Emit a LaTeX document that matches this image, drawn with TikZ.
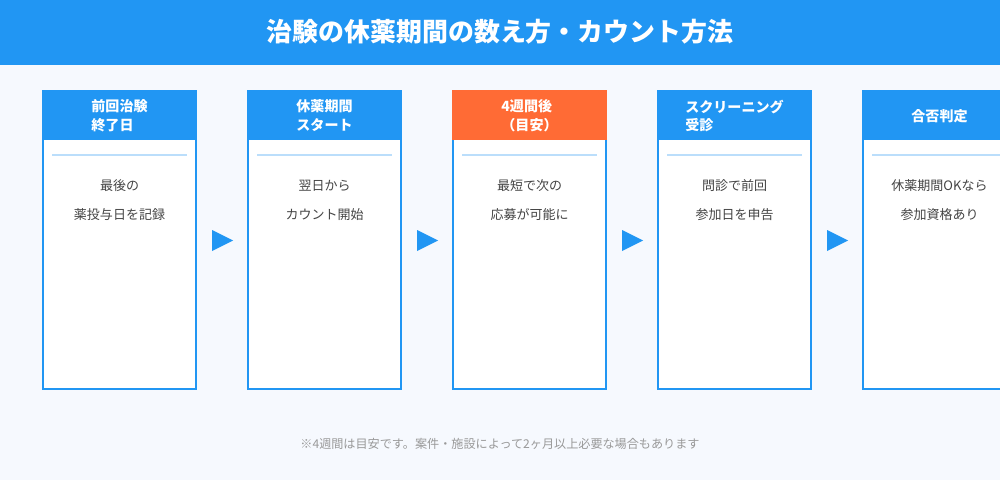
\documentclass[tikz,border=0pt]{standalone}
\usepackage{fontspec}
\setmainfont{Noto Sans CJK JP}
\usetikzlibrary{shapes.geometric}

\definecolor{flowblue}{HTML}{2196F3}
\definecolor{floworange}{HTML}{FF6B35}
\definecolor{flowline}{HTML}{BBDEFB}
\definecolor{pagebg}{HTML}{F6F9FE}
\definecolor{bodytext}{HTML}{444444}
\definecolor{notetext}{HTML}{999999}

\tikzset{
  titletext/.style={text=white, font=\bfseries\fontsize{14.75}{16}\selectfont},
  stepframe/.style={draw=flowblue, line width=1.2pt, fill=white},
  stephead/.style={text=white, align=left, inner sep=0pt,
    font=\bfseries\fontsize{8}{10.8}\selectfont},
  stepbody/.style={text=bodytext, font=\fontsize{7.4}{9}\selectfont},
  steparrow/.style={isosceles triangle, isosceles triangle stretches,
    fill=flowblue, inner sep=0pt, minimum width=0.42cm, minimum height=0.42cm},
  notetxt/.style={text=notetext, font=\fontsize{6.9}{8}\selectfont}
}

\begin{document}
\begin{tikzpicture}[x=0.02cm,y=-0.02cm]
  \clip (0,0) rectangle (1000,480);
  \fill[pagebg] (0,0) rectangle (1000,480);

  % title bar
  \fill[flowblue] (0,0) rectangle (1000,65);
  \node[titletext] (title) at (500,32) {治験の休薬期間の数え方・カウント方法};

  % the five steps
  \foreach \i/\head/\lineA/\lineB/\col in {
      0/{前回治験\\終了日}/最後の/薬投与日を記録/flowblue,
      1/{休薬期間\\スタート}/翌日から/カウント開始/flowblue,
      2/{4週間後\\（目安）}/最短で次の/応募が可能に/floworange,
      3/{スクリーニング\\受診}/問診で前回/参加日を申告/flowblue,
      4/{合否判定}/休薬期間OKなら/参加資格あり/flowblue} {
    \pgfmathsetmacro{\x}{42+205*\i}
    \draw[stepframe] (\x+1,91) rectangle (\x+154,389);
    \fill[\col] (\x,90) rectangle (\x+155,140);
    \draw[flowline, line width=0.6pt] (\x+10,155) -- (\x+145,155);
    \node[stephead] (head\i) at (\x+77.5,116) {\head};
    \node[stepbody] (top\i) at (\x+77.5,186) {\lineA};
    \node[stepbody] (bot\i) at (\x+77.5,215) {\lineB};
  }

  % arrows between the steps
  \foreach \i in {0,...,3}
    \node[steparrow] (arr\i) at (218.5+205*\i,240.5) {};

  \node[notetxt] (note) at (500,444) {※4週間は目安です。案件・施設によって2ヶ月以上必要な場合もあります};
\end{tikzpicture}
\end{document}
